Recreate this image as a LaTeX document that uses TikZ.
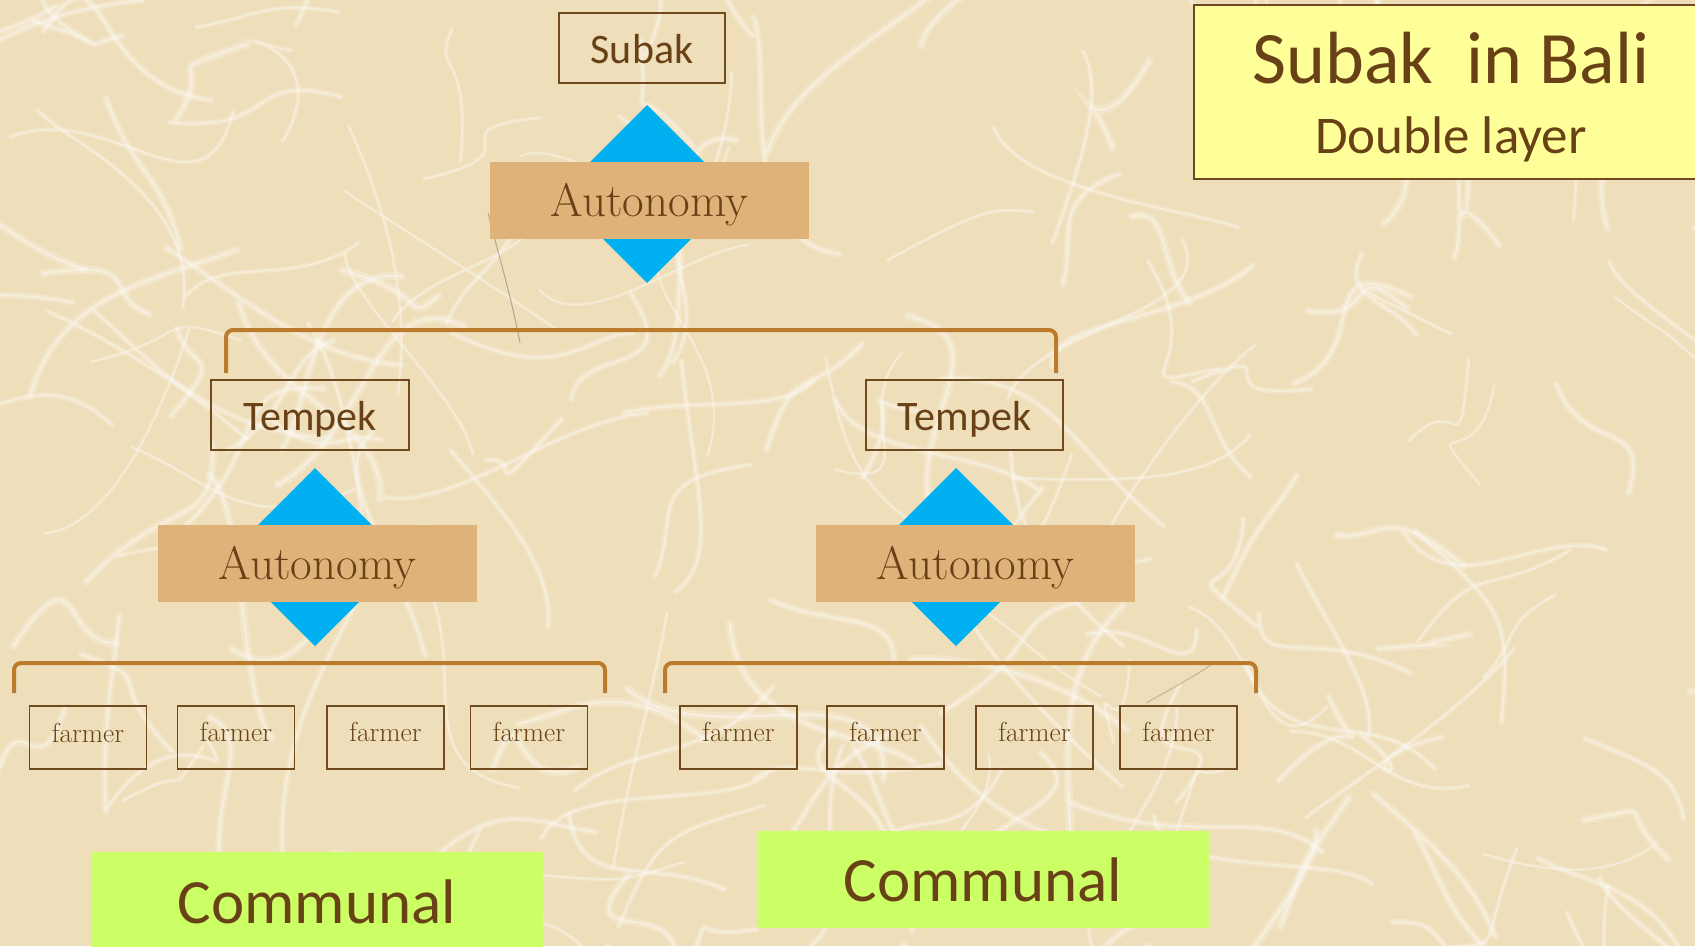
\documentclass[tikz,border=0pt]{standalone}
\usepackage{fontspec}
\newfontfamily\calib{Carlito}
\definecolor{paper}{RGB}{239,222,186}
\definecolor{ink}{RGB}{104,66,22}
\definecolor{edge}{RGB}{110,74,30}
\definecolor{gold}{RGB}{186,124,44}
\definecolor{tanfill}{RGB}{223,178,122}
\definecolor{sky}{RGB}{0,176,240}
\definecolor{limefill}{RGB}{204,255,102}
\definecolor{titlefill}{RGB}{255,255,153}
\definecolor{darkfibre}{RGB}{110,100,80}
\begin{document}
\begin{tikzpicture}[x=1pt,y=-1pt,
  lvlbox/.style={draw=edge, line width=1.8pt, text=ink, font=\calib\fontsize{42}{50}\selectfont,
    inner sep=0pt, minimum height=70pt, text height=34pt, text depth=4pt},
  autobox/.style={fill=tanfill, text=ink, font=\fontsize{47}{54}\selectfont,
    minimum width=319pt, minimum height=77pt, inner sep=0pt, text height=36pt, text depth=5pt},
  farmerbox/.style={draw=edge, line width=1.8pt, text=ink, font=\fontsize{27.5}{32}\selectfont,
    minimum width=117pt, minimum height=63pt, inner sep=0pt, text height=20pt, text depth=13pt},
  commbox/.style={fill=limefill, text=ink, font=\calib\fontsize{63}{70}\selectfont,
    minimum width=452pt, inner sep=0pt},
  bracket/.style={draw=gold, line width=4pt, rounded corners=7pt},
  kite/.style={fill=sky},
  fiber/.style={draw=white, line cap=round}
]
\useasboundingbox (0,0) rectangle (1695,946);
\fill[paper] (0,0) rectangle (1695,946);

% paper fibres: a soft wide stroke with a brighter core
\pgfmathsetseed{17}
\foreach \i in {1,...,200}{
  \pgfmathsetmacro\xa{rnd*1695}
  \pgfmathsetmacro\ya{rnd*946}
  \pgfmathsetmacro\aa{rnd*360}
  \pgfmathsetmacro\ab{\aa+180+rnd*140-70}
  \pgfmathsetmacro\ac{\aa+rnd*60-30}
  \pgfmathsetmacro\la{40+rnd*90}
  \pgfmathsetmacro\lb{40+rnd*90}
  \pgfmathsetmacro\lc{80+rnd*200}
  \pgfmathsetmacro\wd{1.5+rnd*3}
  \draw[fiber, opacity=0.22, line width=2*\wd pt] (\xa,\ya) .. controls +(\aa:\la) and +(\ab:\lb) .. +(\ac:\lc);
  \draw[fiber, opacity=0.35, line width=0.6*\wd pt] (\xa,\ya) .. controls +(\aa:\la) and +(\ab:\lb) .. +(\ac:\lc);
}
\draw[darkfibre, opacity=0.45, line width=1pt] (488,213) .. controls (500,260) and (512,300) .. (520,343);
\draw[darkfibre, opacity=0.3, line width=1.2pt] (1211,665) .. controls (1185,682) and (1165,692) .. (1146,703);

% diamonds behind the autonomy bars
\coordinate (k0) at (647,194);
\coordinate (k1) at (315,557);
\coordinate (k2) at (956,557);
\foreach \k in {k0,k1,k2}
  \fill[kite] (\k) ++(0,-89) -- ++(89,89) -- ++(-89,89) -- ++(-89,-89) -- cycle;

% top level
\node[lvlbox, minimum width=166pt] (subak) at (642,48) {Subak};
\node[autobox] (aut0) at (649.5,200.5) {Autonomy};

% tempek level
\node[lvlbox, minimum width=198pt] (tempL) at (310,415) {Tempek};
\node[lvlbox, minimum width=197pt] (tempR) at (964.5,415) {Tempek};
\node[autobox] (autL) at (317.5,563.5) {Autonomy};
\node[autobox] (autR) at (975.5,563.5) {Autonomy};

% brackets
\coordinate (b0a) at (226,373); \coordinate (b0b) at (1056,373);
\draw[bracket] (b0a) -- (226,330) -- (1056,330) -- (b0b);
\coordinate (bLa) at (14,693); \coordinate (bLb) at (605,693);
\draw[bracket] (bLa) -- (14,663) -- (605,663) -- (bLb);
\coordinate (bRa) at (665,693); \coordinate (bRb) at (1256,693);
\draw[bracket] (bRa) -- (665,663) -- (1256,663) -- (bRb);

% farmers
\node[farmerbox, text depth=10pt] (f1) at (88,737.5) {farmer};
\node[farmerbox] (f2) at (236,737.5) {farmer};
\node[farmerbox] (f3) at (385.5,737.5) {farmer};
\node[farmerbox] (f4) at (529,737.5) {farmer};
\node[farmerbox] (f5) at (738.5,737.5) {farmer};
\node[farmerbox] (f6) at (885.5,737.5) {farmer};
\node[farmerbox] (f7) at (1034.5,737.5) {farmer};
\node[farmerbox] (f8) at (1178.5,737.5) {farmer};

% communal labels
\node[commbox, minimum height=100pt] (comL) at (317,902) {Communal};
\node[commbox, minimum height=97pt] (comR) at (983,879.5) {Communal};

% title
\node[draw=edge, line width=1.8pt, fill=titlefill, minimum width=511pt, minimum height=174pt,
  inner sep=0pt] (title) at (1449.5,92) {};
\node[text=ink, font=\calib\fontsize{74}{80}\selectfont, anchor=base, inner sep=0pt]
  (t1) at (1451,83) {Subak\ \ in Bali};
\node[text=ink, font=\calib\fontsize{53}{60}\selectfont, anchor=base, inner sep=0pt]
  (t2) at (1451,153) {Double layer};
\end{tikzpicture}
\end{document}
